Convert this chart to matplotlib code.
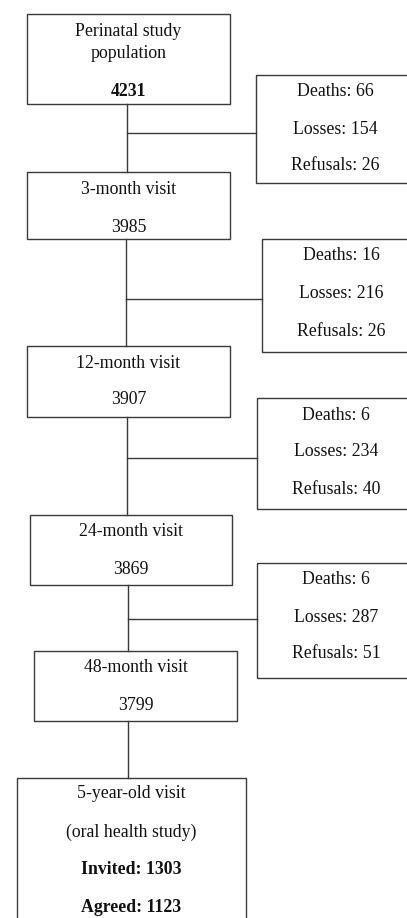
import matplotlib
matplotlib.use("Agg")
import matplotlib.pyplot as plt
from matplotlib.patches import Rectangle

# flowchart contents
visit_labels = [["Perinatal study", "population"], ["3-month visit"], ["12-month visit"],
                ["24-month visit"], ["48-month visit"]]
visit_counts = [4231, 3985, 3907, 3869, 3799]
deaths = [66, 16, 6, 6]
losses = [154, 216, 234, 287]
refusals = [26, 26, 40, 51]
final_labels = ["5-year-old visit", "(oral health study)"]
invited = 1303
agreed = 1123

# layout in pixels (x0, x1, y0, y1), y going down
main_boxes = [(27, 230, 14, 104), (27, 230, 172, 239), (27, 230, 346, 417),
              (30, 232, 515, 585), (34, 237, 651, 721)]
main_text_y = [[32, 54, 92], [189, 228], [363, 400], [532, 570], [668, 705]]
side_boxes = [(256, 412, 75, 183), (262, 412, 239, 352), (257, 412, 398, 509),
              (257, 412, 563, 678)]
side_text_y = [[92, 129, 166], [256, 293, 331], [415, 452, 489], [580, 617, 654]]
branch_y = [133, 299, 458, 619]
stem_x = [127, 126, 127, 128]
final_box = (17, 246, 778, 940)
final_text_y = [794, 832, 869, 907]

plt.rcParams['font.family'] = ['Liberation Serif', 'DejaVu Serif']
LC = '#3a3a3a'
FS = 12.8

fig = plt.figure(figsize=(4.07, 9.18), dpi=100)
ax = fig.add_axes([0, 0, 1, 1])
ax.set_xlim(0, 407)
ax.set_ylim(918, 0)
ax.axis('off')


def box(b):
    x0, x1, y0, y1 = b
    ax.add_patch(Rectangle((x0, y0), x1 - x0, y1 - y0, fill=False, ec=LC, lw=1.0))


def say(x, y, s, bold=False):
    ax.text(x, y, s, ha='center', va='center', fontsize=FS, color='#111111',
            fontweight='bold' if bold else 'normal')


for i, b in enumerate(main_boxes):
    box(b)
    cx = (b[0] + b[1]) / 2
    ys = main_text_y[i]
    for y, s in zip(ys[:-1], visit_labels[i]):
        say(cx, y, s)
    say(cx, ys[-1], str(visit_counts[i]), bold=(i == 0))

for i, b in enumerate(side_boxes):
    box(b)
    cx = b[0] + 79
    ys = side_text_y[i]
    say(cx, ys[0], f"Deaths: {deaths[i]}")
    say(cx, ys[1], f"Losses: {losses[i]}")
    say(cx, ys[2], f"Refusals: {refusals[i]}")
    # stem between main boxes and branch to side box
    ax.plot([stem_x[i], stem_x[i]], [main_boxes[i][3], main_boxes[i + 1][2]], color=LC, lw=1.0)
    ax.plot([stem_x[i], b[0]], [branch_y[i], branch_y[i]], color=LC, lw=1.0)

# last stem and final box
ax.plot([128, 128], [main_boxes[-1][3], final_box[2]], color=LC, lw=1.0)
box(final_box)
cx = (final_box[0] + final_box[1]) / 2
say(cx, final_text_y[0], final_labels[0])
say(cx, final_text_y[1], final_labels[1])
say(cx, final_text_y[2], f"Invited: {invited}", bold=True)
say(cx, final_text_y[3], f"Agreed: {agreed}", bold=True)

fig.savefig("out.png", dpi=100)
